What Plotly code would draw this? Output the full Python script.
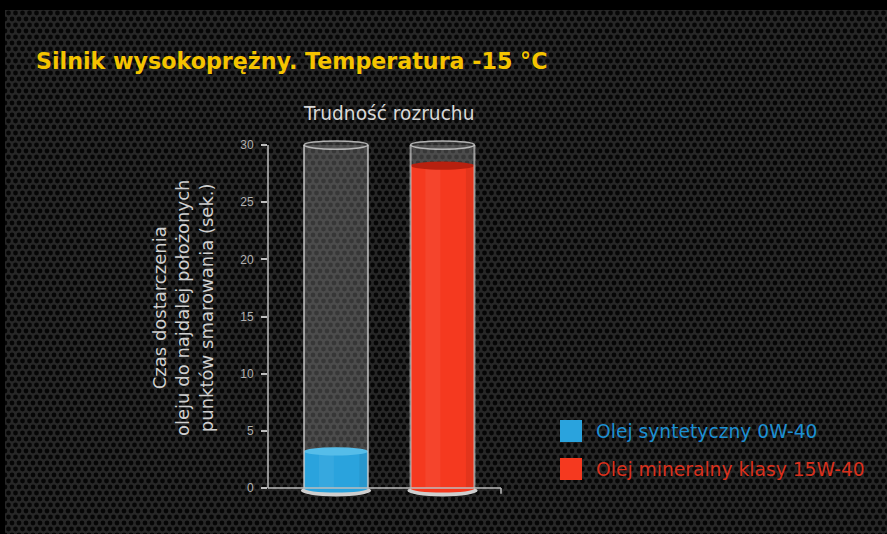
import base64
import plotly.graph_objects as go

# ---- data -------------------------------------------------------------
categories = ["Olej syntetyczny 0W-40", "Olej mineralny klasy 15W-40"]
values = [3.2, 28.2]                 # seconds
capacity = 30                         # full tube height (axis max)
tick_values = [0, 5, 10, 15, 20, 25, 30]
liquid_colors = ["#2aa3dd", "#f5391f"]
surface_colors = ["#55bde9", "#b8200f"]
legend_text_colors = ["#1c8fd2", "#d9301c"]

title_text = "Silnik wysokoprężny. Temperatura -15 °C"
subtitle_text = "Trudność rozruchu"
y_title_lines = ["Czas dostarczenia", "oleju do najdalej położonych", "punktów smarowania (sek.)"]

# ---- page geometry ----------------------------------------------------
W, H = 887, 534
FONT = "DejaVu Sans, Liberation Sans, sans-serif"
TICK_FONT = "Liberation Sans, Arial, sans-serif"


def px(xp):
    return xp / W


def py(yp):
    return 1 - yp / H


positions = list(range(len(categories)))
bar_w = 0.6
y_range = [-1.0, 31.2]
x_range = [-0.6385, 1.6526]

# perforated metal background as an svg pattern
svg = (
    "<svg xmlns='http://www.w3.org/2000/svg' width='882' height='524'>"
    "<defs><pattern id='p' width='7' height='12' patternUnits='userSpaceOnUse'>"
    "<rect width='7' height='12' fill='#272727'/>"
    "<circle cx='3.5' cy='3' r='2.4' fill='#060606'/>"
    "<circle cx='0' cy='9' r='2.4' fill='#060606'/>"
    "<circle cx='7' cy='9' r='2.4' fill='#060606'/>"
    "</pattern></defs><rect width='100%' height='100%' fill='url(#p)'/></svg>"
)
svg_uri = "data:image/svg+xml;base64," + base64.b64encode(svg.encode()).decode()

fig = go.Figure()

# glass tubes
fig.add_trace(go.Bar(
    x=positions, y=[capacity] * len(positions), width=bar_w,
    marker=dict(color="rgba(145,145,145,0.36)", line=dict(width=0)),
    showlegend=False, hoverinfo="skip",
))
# oil columns
fig.add_trace(go.Bar(
    x=positions, y=values, width=bar_w,
    marker=dict(color=liquid_colors, line=dict(width=0)),
    showlegend=False, hovertemplate="%{y} s<extra></extra>",
))

shapes = []
half_e = 0.36
for p, v, c, sc in zip(positions, values, liquid_colors, surface_colors):
    # base rim and rounded bottom (below the bars)
    shapes.append(dict(type="circle", xref="x", yref="y", layer="below",
                       x0=p - bar_w / 2 - 0.03, x1=p + bar_w / 2 + 0.03,
                       y0=-0.75, y1=0.3, fillcolor="#cfcfcf", line=dict(width=0)))
    shapes.append(dict(type="circle", xref="x", yref="y", layer="below",
                       x0=p - bar_w / 2, x1=p + bar_w / 2,
                       y0=-0.4, y1=0.3, fillcolor=c, line=dict(width=0)))
    # soft highlight and shade on the column
    shapes.append(dict(type="rect", xref="x", yref="y", layer="above",
                       x0=p - 0.16, x1=p - 0.02, y0=0, y1=v,
                       fillcolor="rgba(255,255,255,0.06)", line=dict(width=0)))
    shapes.append(dict(type="rect", xref="x", yref="y", layer="above",
                       x0=p + 0.22, x1=p + bar_w / 2, y0=0, y1=v,
                       fillcolor="rgba(0,0,0,0.07)", line=dict(width=0)))
    # liquid surface
    shapes.append(dict(type="circle", xref="x", yref="y", layer="above",
                       x0=p - bar_w / 2, x1=p + bar_w / 2,
                       y0=v - half_e, y1=v + half_e, fillcolor=sc, line=dict(width=0)))
    # tube walls
    for side in (-1, 1):
        shapes.append(dict(type="line", xref="x", yref="y", layer="above",
                           x0=p + side * bar_w / 2, x1=p + side * bar_w / 2,
                           y0=0, y1=capacity,
                           line=dict(color="rgba(210,210,210,0.7)", width=2)))
    # tube mouth
    shapes.append(dict(type="circle", xref="x", yref="y", layer="above",
                       x0=p - bar_w / 2, x1=p + bar_w / 2,
                       y0=capacity - half_e, y1=capacity + half_e,
                       fillcolor="rgba(110,110,110,0.35)",
                       line=dict(color="rgba(210,210,210,0.8)", width=1.5)))

# axis lines
axis_x0 = px(268)
axis_x1 = px(501)
shapes.append(dict(type="line", xref="paper", yref="y", x0=axis_x0, x1=axis_x0,
                   y0=0, y1=capacity, line=dict(color="#bdbdbd", width=1.5)))
shapes.append(dict(type="line", xref="paper", yref="y", x0=axis_x0, x1=axis_x1,
                   y0=0, y1=0, line=dict(color="#bdbdbd", width=1.5)))
shapes.append(dict(type="line", xref="paper", yref="y", x0=axis_x1, x1=axis_x1,
                   y0=0, y1=-0.5, line=dict(color="#bdbdbd", width=1.5)))

# legend swatches
legend_rows = [431, 469]
for yc, c in zip(legend_rows, liquid_colors):
    shapes.append(dict(type="rect", xref="paper", yref="paper",
                       x0=px(560), x1=px(582), y0=py(yc + 11), y1=py(yc - 11),
                       fillcolor=c, line=dict(width=0)))

annotations = [
    dict(text="<b>" + title_text + "</b>", xref="paper", yref="paper",
         x=px(34), y=py(61), xanchor="left", yanchor="middle", showarrow=False,
         font=dict(family=FONT, size=22.2, color="#f5c400")),
    dict(text=subtitle_text, xref="paper", yref="paper",
         x=px(388), y=py(114), xanchor="center", yanchor="middle", showarrow=False,
         font=dict(family=FONT, size=18.6, color="#d8d8d8")),
    dict(text="<br>".join(y_title_lines), xref="paper", yref="paper",
         x=px(183), y=py(308), xanchor="center", yanchor="middle", showarrow=False,
         textangle=-90, font=dict(family=FONT, size=18, color="#cfcfcf")),
]
for yc, name, tc in zip(legend_rows, categories, legend_text_colors):
    annotations.append(dict(text=name, xref="paper", yref="paper",
                            x=px(594), y=py(yc), xanchor="left", yanchor="middle",
                            showarrow=False, font=dict(family=FONT, size=18.7, color=tc)))

fig.update_layout(
    width=W, height=H,
    margin=dict(l=0, r=0, t=0, b=0),
    paper_bgcolor="#000000", plot_bgcolor="rgba(0,0,0,0)",
    barmode="overlay", bargap=0,
    showlegend=False,
    xaxis=dict(domain=[px(268), px(512)], range=x_range, visible=False,
               fixedrange=True),
    yaxis=dict(domain=[py(488 + 11.433 * -y_range[0]), py(488 - 11.433 * y_range[1])],
               range=y_range, tickmode="array", tickvals=tick_values,
               ticks="outside", ticklen=6, tickwidth=1.5, tickcolor="#bdbdbd",
               ticklabelstandoff=5,
               tickfont=dict(family=TICK_FONT, size=12, color="#b0b0b0"),
               showgrid=False, zeroline=False, showline=False, fixedrange=True),
    shapes=shapes,
    annotations=annotations,
    images=[dict(source=svg_uri, xref="paper", yref="paper",
                 x=px(5), y=py(10), sizex=1 - px(5), sizey=py(10),
                 sizing="stretch", xanchor="left", yanchor="top", layer="below")],
)

fig.write_html("out.html")
